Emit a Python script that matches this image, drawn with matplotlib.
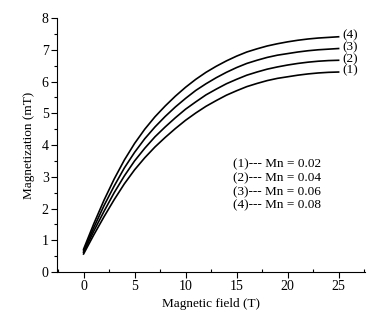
import matplotlib
matplotlib.use("Agg")
import matplotlib.pyplot as plt
from matplotlib.ticker import MultipleLocator

field = list(range(0, 26))
mn1 = [0.57, 1.17, 1.74, 2.28, 2.78, 3.22, 3.60, 3.94, 4.24, 4.52, 4.78, 5.01, 5.22,
       5.40, 5.57, 5.71, 5.84, 5.94, 6.03, 6.10, 6.15, 6.20, 6.24, 6.27, 6.29, 6.30]
mn2 = [0.62, 1.29, 1.91, 2.50, 3.03, 3.50, 3.90, 4.26, 4.57, 4.86, 5.13, 5.36, 5.58,
       5.76, 5.93, 6.07, 6.20, 6.30, 6.39, 6.46, 6.52, 6.57, 6.61, 6.64, 6.66, 6.67]
mn3 = [0.67, 1.40, 2.09, 2.71, 3.28, 3.77, 4.20, 4.57, 4.90, 5.20, 5.47, 5.72, 5.93,
       6.12, 6.29, 6.44, 6.57, 6.67, 6.76, 6.83, 6.88, 6.93, 6.97, 7.00, 7.02, 7.04]
mn4 = [0.72, 1.52, 2.26, 2.93, 3.53, 4.05, 4.50, 4.89, 5.23, 5.54, 5.82, 6.07, 6.29,
       6.48, 6.65, 6.80, 6.93, 7.03, 7.12, 7.19, 7.25, 7.30, 7.34, 7.37, 7.39, 7.41]
series = [mn1, mn2, mn3, mn4]
curve_labels = ["(1)", "(2)", "(3)", "(4)"]
legend_lines = ["(1)--- Mn = 0.02", "(2)--- Mn = 0.04", "(3)--- Mn = 0.06", "(4)--- Mn = 0.08"]

plt.rcParams['font.family'] = ['Liberation Serif', 'DejaVu Serif']

fig = plt.figure(figsize=(3.88, 3.22), dpi=100)
ax = fig.add_axes([0.147, 0.155, 0.794, 0.789])

for ys, lab in zip(series, curve_labels):
    ax.plot(field, ys, color='black', lw=1.2)
    ax.text(field[-1] + 0.4, ys[-1] + 0.04, lab, fontsize=9.5, va='center', ha='left')

ax.set_xlim(-2.6, 27.6)
ax.set_ylim(0, 8)
ax.xaxis.set_major_locator(MultipleLocator(5))
ax.xaxis.set_minor_locator(MultipleLocator(2.5))
ax.yaxis.set_major_locator(MultipleLocator(1))
ax.yaxis.set_minor_locator(MultipleLocator(0.5))
ax.spines['top'].set_visible(False)
ax.spines['right'].set_visible(False)
ax.tick_params(axis='both', which='major', direction='out', length=4, width=0.8, labelsize=10, pad=2)
ax.tick_params(axis='x', which='minor', direction='in', length=2.5, width=0.8)
ax.tick_params(axis='y', which='minor', direction='out', length=2.5, width=0.8)
ax.set_xlabel("Magnetic field (T)", fontsize=9.5, labelpad=3)
ax.set_ylabel("Magnetization (mT)", fontsize=9.5, labelpad=5)

ax.text(0.57, 0.343, "\n".join(legend_lines), transform=ax.transAxes, fontsize=9.5,
        va='center', ha='left', linespacing=1.2)

fig.savefig("out.png", dpi=100)
